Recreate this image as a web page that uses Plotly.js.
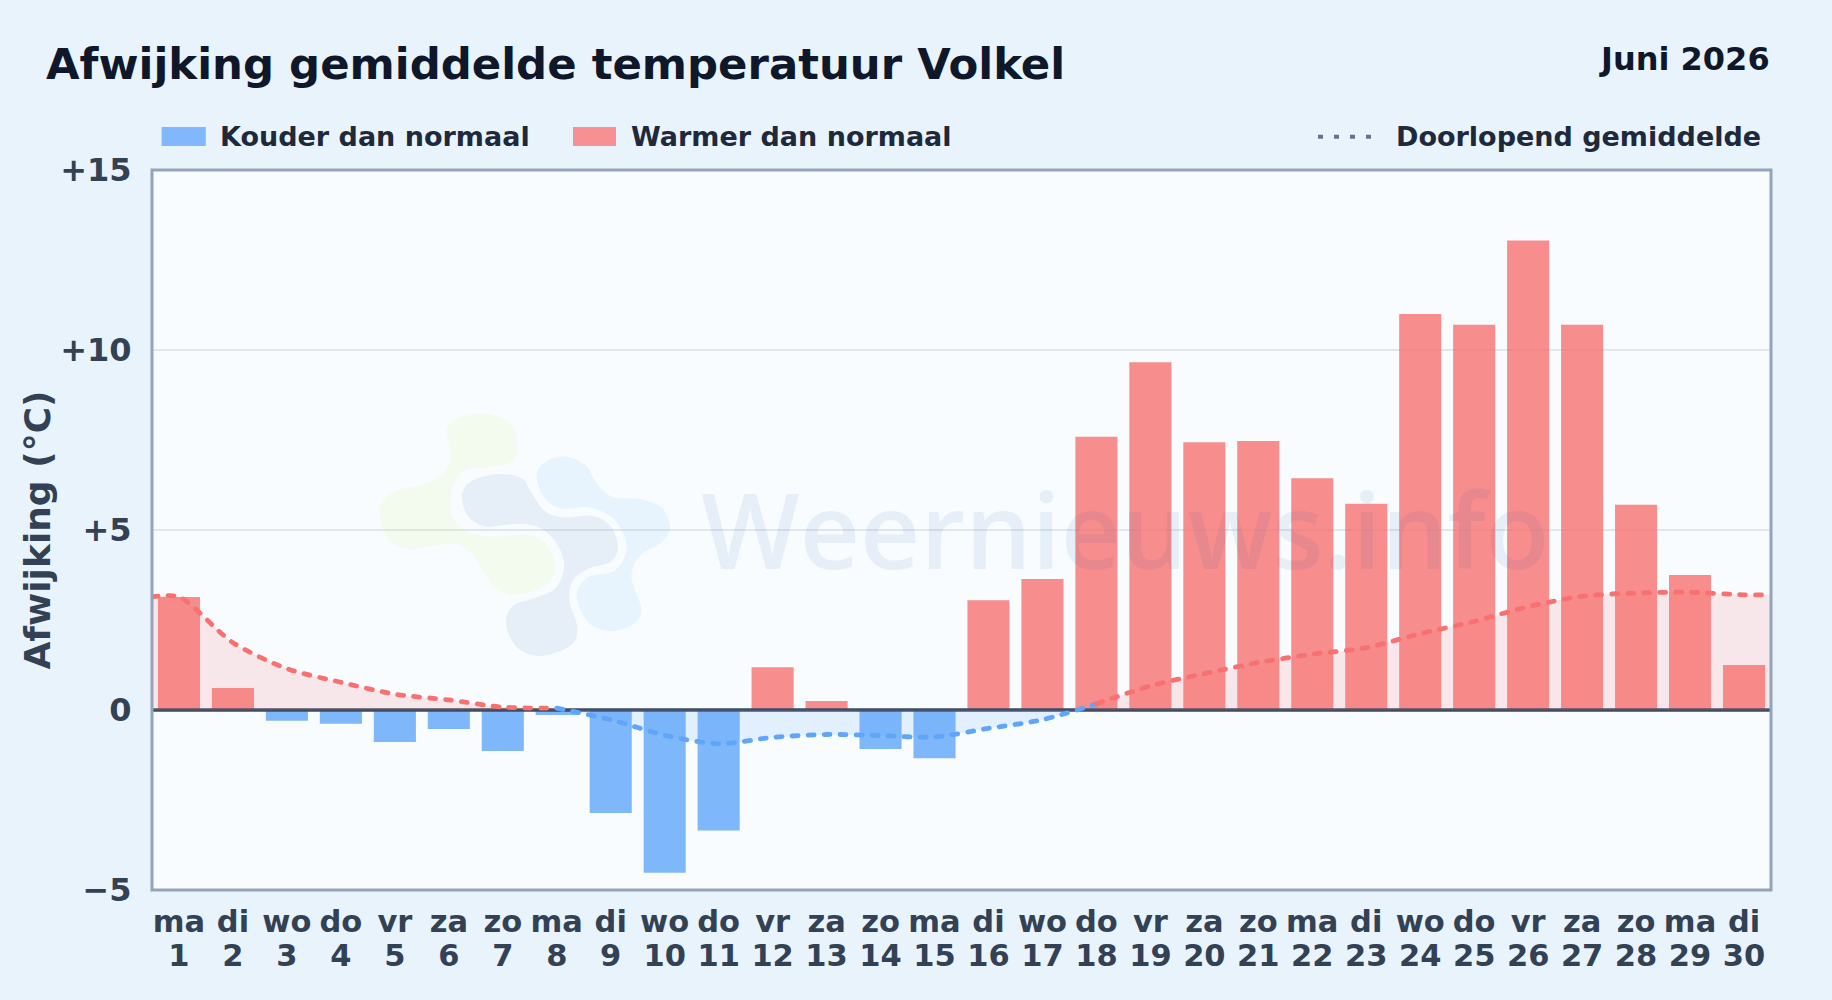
<!DOCTYPE html>
<html>
<head>
<meta charset="utf-8">
<script src="https://cdn.plot.ly/plotly-3.0.1.min.js"></script>
<style>
html,body{margin:0;padding:0;background:#e8f3fc;overflow:hidden}
#chart{width:1832px;height:1000px}
.scatterlayer .js-line{stroke-linecap:round}
</style>
</head>
<body>
<div id="chart"></div>
<script>
const days = [1,2,3,4,5,6,7,8,9,10,11,12,13,14,15,16,17,18,19,20,21,22,23,24,25,26,27,28,29,30];
const dayNames = ["ma","di","wo","do","vr","za","zo","ma","di","wo","do","vr","za","zo","ma","di","wo","do","vr","za","zo","ma","di","wo","do","vr","za","zo","ma","di"];
const deviation = [3.14,0.61,-0.30,-0.38,-0.89,-0.53,-1.14,-0.14,-2.86,-4.52,-3.35,1.19,0.25,-1.08,-1.34,3.05,3.64,7.59,9.66,7.44,7.47,6.44,5.73,11.0,10.7,13.04,10.7,5.7,3.75,1.25];
const warmStartX = [0.5,1,2,3,4,5,6,7,8];
const warmStartMean = [3.14,3.14,1.87,1.15,0.77,0.44,0.28,0.08,0.05];
const coldX = [8,9,10,11,12,13,14,15,16,17,18];
const coldMean = [0.05,-0.27,-0.70,-0.94,-0.76,-0.68,-0.71,-0.75,-0.51,-0.27,0.17];
const warmEndX = [18,19,20,21,22,23,24,25,26,27,28,29,30,30.5];
const warmEndMean = [0.17,0.67,1.01,1.32,1.55,1.73,2.12,2.46,2.87,3.16,3.25,3.27,3.20,3.20];
const yTicks = [-5,0,5,10,15];
const yTickText = ["−5","0","+5","+10","+15"];

const L=152,R=1771,T=170,B=890;
const px=x=>(x-L)/(R-L), py=y=>(B-y)/(B-T);
const FONT='"DejaVu Sans", sans-serif';
const RED='#f87171', BLUE='#60a5fa';

const coldDays=days.filter((d,i)=>deviation[i]<0), coldVals=deviation.filter(v=>v<0);
const warmDays=days.filter((d,i)=>deviation[i]>=0), warmVals=deviation.filter(v=>v>=0);

function meanTrace(x,y,color,fill,name){
  return {type:'scatter',mode:'lines',x:x,y:y,xaxis:'x2',yaxis:'y',name:name,showlegend:false,hoverinfo:'skip',
    line:{color:color,width:4.8,dash:'6px,10px',shape:'spline',smoothing:0.8},
    fill:'tozeroy',fillcolor:fill};
}
const traces=[
 {type:'bar',x:coldDays,y:coldVals,name:'Kouder dan normaal',width:0.78,marker:{color:'rgba(96,165,250,0.8)',line:{width:0}},showlegend:false},
 {type:'bar',x:warmDays,y:warmVals,name:'Warmer dan normaal',width:0.78,marker:{color:'rgba(248,113,113,0.8)',line:{width:0}},showlegend:false},
 {type:'scatter',mode:'lines',x:[0.5,30.5],y:[0,0],line:{color:'#3f4b5e',width:3.6},showlegend:false,hoverinfo:'skip',name:'nul'},
 meanTrace(warmStartX,warmStartMean,RED,'rgba(248,113,113,0.15)','Doorlopend gemiddelde'),
 meanTrace(coldX,coldMean,BLUE,'rgba(96,165,250,0.15)','Doorlopend gemiddelde'),
 meanTrace(warmEndX,warmEndMean,RED,'rgba(248,113,113,0.15)','Doorlopend gemiddelde')
];

// watermark logo outlines, traced in crop coordinates
const zx=X=>340+X/2.529, zy=Y=>380+Y/3;
function blob(pts){
  const P=pts.map(p=>[px(zx(p[0])),py(zy(p[1]))]);
  const n=P.length; let d='M'+P[0][0]+','+P[0][1];
  for(let i=0;i<n;i++){
    const p0=P[(i-1+n)%n],p1=P[i],p2=P[(i+1)%n],p3=P[(i+2)%n];
    const c1=[p1[0]+(p2[0]-p0[0])/6,p1[1]+(p2[1]-p0[1])/6];
    const c2=[p2[0]-(p3[0]-p1[0])/6,p2[1]-(p3[1]-p1[1])/6];
    d+='C'+c1[0]+','+c1[1]+' '+c2[0]+','+c2[1]+' '+p2[0]+','+p2[1];
  }
  return d+'Z';
}
const blobGreen=[[365,100],[430,130],[450,190],[435,245],[370,262],[310,275],[280,340],[285,410],[320,455],[390,470],[470,465],[520,490],[543,560],[520,615],[445,645],[395,625],[360,570],[330,515],[280,490],[180,508],[125,480],[100,400],[130,340],[220,310],[265,275],[280,215],[270,150],[300,115]];
const blobDark=[[400,282],[460,295],[485,340],[520,395],[570,412],[640,408],[685,440],[703,500],[685,545],[630,565],[590,600],[580,660],[600,740],[585,795],[510,828],[450,805],[420,735],[435,680],[490,655],[545,625],[567,555],[545,485],[500,440],[440,432],[370,440],[325,410],[308,350],[330,305]];
const blobLight=[[570,230],[620,255],[650,310],[690,352],[760,357],[815,385],[835,445],[810,490],[760,525],[737,590],[762,685],[745,730],[690,753],[635,735],[605,680],[600,630],[630,590],[690,575],[720,530],[722,480],[690,415],[630,382],[560,385],[515,350],[497,285],[520,245]];
const logoShape=(pts,c)=>({type:'path',xref:'paper',yref:'paper',path:blob(pts),fillcolor:c,line:{width:0},layer:'above'});
const swatch=(x0,x1,c)=>({type:'rect',xref:'paper',yref:'paper',x0:px(x0),x1:px(x1),y0:py(146),y1:py(127),fillcolor:c,line:{width:0}});

const legendLabel=(text,x,anchor)=>({xref:'paper',yref:'paper',x:px(x),y:py(137),xanchor:anchor,yanchor:'middle',showarrow:false,text:text,
  font:{family:FONT,size:27,weight:700,color:'#1e293b'}});

const layout={
 width:1832,height:1000,
 paper_bgcolor:'#e8f3fc',plot_bgcolor:'#f8fcff',
 margin:{l:L,r:1832-R,t:T,b:1000-B,pad:0},
 showlegend:false,barmode:'overlay',hovermode:false,
 title:{text:'Afwijking gemiddelde temperatuur Volkel',x:46/1832,xanchor:'left',xref:'container',y:1-64/1000,yanchor:'middle',yref:'container',
   font:{family:FONT,size:43.4,weight:700,color:'#0f172a'}},
 xaxis:{range:[0.5,30.5],tickvals:days,ticktext:dayNames,tickmode:'array',tickangle:0,showgrid:false,zeroline:false,showline:false,
   ticks:'outside',ticklen:4,tickcolor:'rgba(0,0,0,0)',tickfont:{family:FONT,size:30.5,weight:700,color:'#334155'},fixedrange:true},
 xaxis2:{range:[0.5,30.5],overlaying:'x',anchor:'y',side:'bottom',tickvals:days,ticktext:days.map(String),tickmode:'array',tickangle:0,showgrid:false,zeroline:false,showline:false,
   ticks:'outside',ticklen:38,tickcolor:'rgba(0,0,0,0)',tickfont:{family:FONT,size:30.5,weight:700,color:'#334155'},fixedrange:true},
 yaxis:{range:[-5,15],tickvals:yTicks,ticktext:yTickText,tickmode:'array',showgrid:true,gridcolor:'#dfe7ec',gridwidth:1.5,zeroline:false,showline:false,
   ticks:'outside',ticklen:13,tickcolor:'rgba(0,0,0,0)',tickfont:{family:FONT,size:32,weight:700,color:'#334155'},fixedrange:true},
 shapes:[
  logoShape(blobGreen,'rgba(215,244,141,0.15)'),
  logoShape(blobDark,'rgba(128,171,208,0.15)'),
  logoShape(blobLight,'rgba(135,204,242,0.15)'),
  swatch(161.6,205.8,'#82b7fb'),
  swatch(573,616,'#f79092'),
  {type:'line',xref:'paper',yref:'paper',x0:px(1318),x1:px(1374),y0:py(136.7),y1:py(136.7),line:{color:'#64748b',width:4,dash:'5px,11px'}},
  {type:'rect',xref:'paper',yref:'paper',x0:0,x1:1,y0:0,y1:1,line:{color:'#94a3b8',width:3},fillcolor:'rgba(0,0,0,0)',layer:'above'}
 ],
 annotations:[
  {xref:'paper',yref:'paper',x:px(1124.6),y:py(528),xanchor:'center',yanchor:'middle',showarrow:false,text:'Weernieuws.info',
   font:{family:'"Open Sans", sans-serif',size:104.5,weight:600,color:'rgba(30,90,160,0.08)'}},
  {xref:'paper',yref:'paper',x:px(37),y:py(530.5),xanchor:'center',yanchor:'middle',textangle:-90,showarrow:false,text:'Afwijking (°C)',
   font:{family:FONT,size:36,weight:700,color:'#334155'}},
  legendLabel('Kouder dan normaal',218,'left'),
  legendLabel('Warmer dan normaal',628.5,'left'),
  legendLabel('Doorlopend gemiddelde',1762.5,'right'),
  {xref:'paper',yref:'paper',x:px(1772),y:py(59),xanchor:'right',yanchor:'middle',showarrow:false,text:'Juni 2026',
   font:{family:FONT,size:32,weight:700,color:'#0f172a'}}
 ]
};
Plotly.newPlot('chart',traces,layout,{displayModeBar:false,staticPlot:true});
</script>
</body>
</html>
